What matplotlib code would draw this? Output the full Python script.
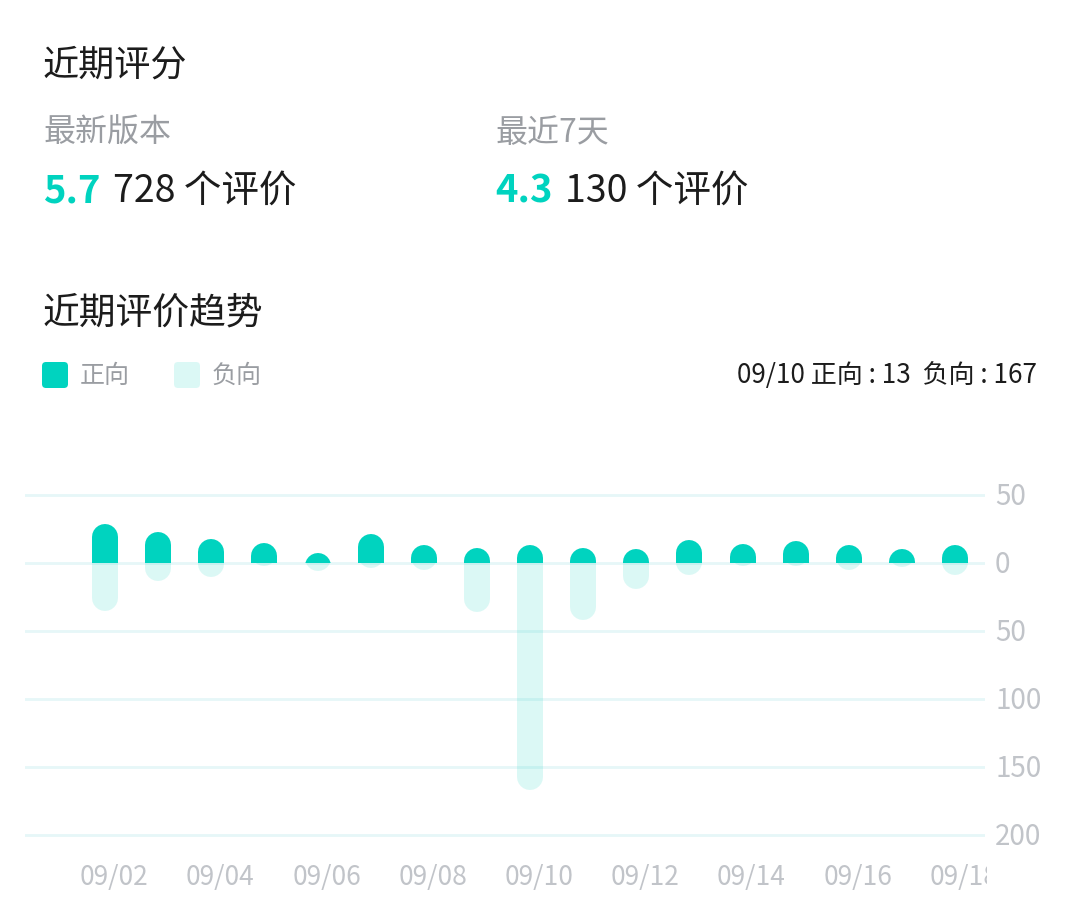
import numpy as np
import matplotlib
matplotlib.use("Agg")
import matplotlib.pyplot as plt
from matplotlib.patches import Rectangle, FancyBboxPatch
from matplotlib.transforms import Bbox, blended_transform_factory, ScaledTranslation

plt.rcParams['font.family'] = ['Noto Sans CJK SC', 'DejaVu Sans']

## dati
dates = ['09/02', '09/03', '09/04', '09/05', '09/06', '09/07', '09/08', '09/09', '09/10',
         '09/11', '09/12', '09/13', '09/14', '09/15', '09/16', '09/17', '09/18']
positive = [29, 23, 18, 15, 7, 21, 13, 11, 13, 11, 10, 17, 14, 16, 13, 10, 13]
negative = [35, 13, 10, 2, 6, 4, 5, 36, 167, 42, 19, 9, 2, 2, 5, 3, 9]
y_ticks = [50, 0, -50, -100, -150, -200]
selected = 8

latest_score, latest_count = 5.7, 728
week_score, week_count = 4.3, 130

TEAL = '#00d3bf'
BLACK = '#1c1c1c'
GRAY = '#9a9da2'
LIGHT_GRAY = '#c1c4c9'
GRID = '#e6f7f8'

W, H = 1076, 899
fig = plt.figure(figsize=(W / 100, H / 100), dpi=100)
fig.patch.set_facecolor('white')

# overlay in pixel coords for texts/legend
ov = fig.add_axes([0, 0, 1, 1])
ov.set_xlim(0, W)
ov.set_ylim(H, 0)
ov.axis('off')

## chart axes
x = np.arange(len(dates))
px_left, px_right = 25, 985
bar0_px, step_px = 105, 53.125
xlim = (-(bar0_px - px_left) / step_px, (px_right - bar0_px) / step_px)
ylim = (-205, 55)
ppu = 1.36
ax_top = 563 - ylim[1] * ppu
ax_bot = 563 - ylim[0] * ppu
ax = fig.add_axes([px_left / W, 1 - ax_bot / H, (px_right - px_left) / W, (ax_bot - ax_top) / H])
ax.set_xlim(*xlim)
ax.set_ylim(*ylim)
ax.axis('off')
ax.patch.set_visible(False)

for v in y_ticks:
    ax.axhline(v, color=GRID, lw=2.0, zorder=1)

# barre arrotondate: linea spessa + clip sullo zero
bar_px = 26
lw_pt = bar_px * 72 / 100
p0 = ax.transData.transform((0, 0))
p1 = ax.transData.transform((0, 1))
r = (bar_px / 2) / (p1[1] - p0[1])

clip_up = Rectangle((xlim[0], 0), xlim[1] - xlim[0], 1000, transform=ax.transData)
clip_dn = Rectangle((xlim[0], -1000), xlim[1] - xlim[0], 1000, transform=ax.transData)

for xi, pv, nv in zip(x, positive, negative):
    ln, = ax.plot([xi, xi], [r, -nv + r], color=TEAL, alpha=0.14, lw=lw_pt,
                  solid_capstyle='round', zorder=2)
    ln.set_clip_path(clip_dn)
    lp, = ax.plot([xi, xi], [-r, pv - r], color=TEAL, lw=lw_pt,
                  solid_capstyle='round', zorder=3)
    lp.set_clip_path(clip_up)

# tick labels
tx = blended_transform_factory(ax.transData, ov.transData)
clip = Bbox.from_extents(0, 0, 987, H)
for xi, d in zip(x[::2], dates[::2]):
    t = ov.text(xi + 0.17, 878, d, transform=tx, ha='center', va='center',
                fontsize=19, color=LIGHT_GRAY)
    t.set_clip_box(clip)
    t.set_clip_on(True)

ty = blended_transform_factory(ov.transData, ax.transData)
ty = ty + ScaledTranslation(0, -2 / 100, fig.dpi_scale_trans)
for v in y_ticks:
    ov.text(995, v, str(abs(v)), transform=ty, ha='left', va='center',
            fontsize=20, color=LIGHT_GRAY)

## header texts
ov.text(43, 66, '近期评分', fontsize=26, color=BLACK, weight='medium', va='center')
ov.text(43, 133, '最新版本', fontsize=23, color=GRAY, va='center')
ov.text(495, 133, '最近7天', fontsize=23, color=GRAY, va='center')
ov.text(43, 191, f'{latest_score}', fontsize=27.5, color=TEAL, weight='bold', va='center')
ov.text(113, 191, f'{latest_count} 个评价', fontsize=27, color=BLACK, va='center')
ov.text(495, 191, f'{week_score}', fontsize=27.5, color=TEAL, weight='bold', va='center')
ov.text(565, 191, f'{week_count} 个评价', fontsize=27, color=BLACK, va='center')
ov.text(43, 313, '近期评价趋势', fontsize=26.5, color=BLACK, weight='medium', va='center')

## legend
for lx, col, a, lab in [(42, TEAL, 1.0, '正向'), (174, TEAL, 0.14, '负向')]:
    ov.add_patch(FancyBboxPatch((lx + 4, 366), 18, 18, boxstyle='round,pad=4',
                                facecolor=col, alpha=a, edgecolor='none'))
    ov.text(lx + 38, 376, lab, fontsize=18, color=GRAY, va='center')

ov.text(1037, 376, f'{dates[selected]} 正向 : {positive[selected]}  负向 : {negative[selected]}',
        fontsize=18.75, color=BLACK, ha='right', va='center')

plt.savefig('out.png', dpi=100, facecolor='white')
